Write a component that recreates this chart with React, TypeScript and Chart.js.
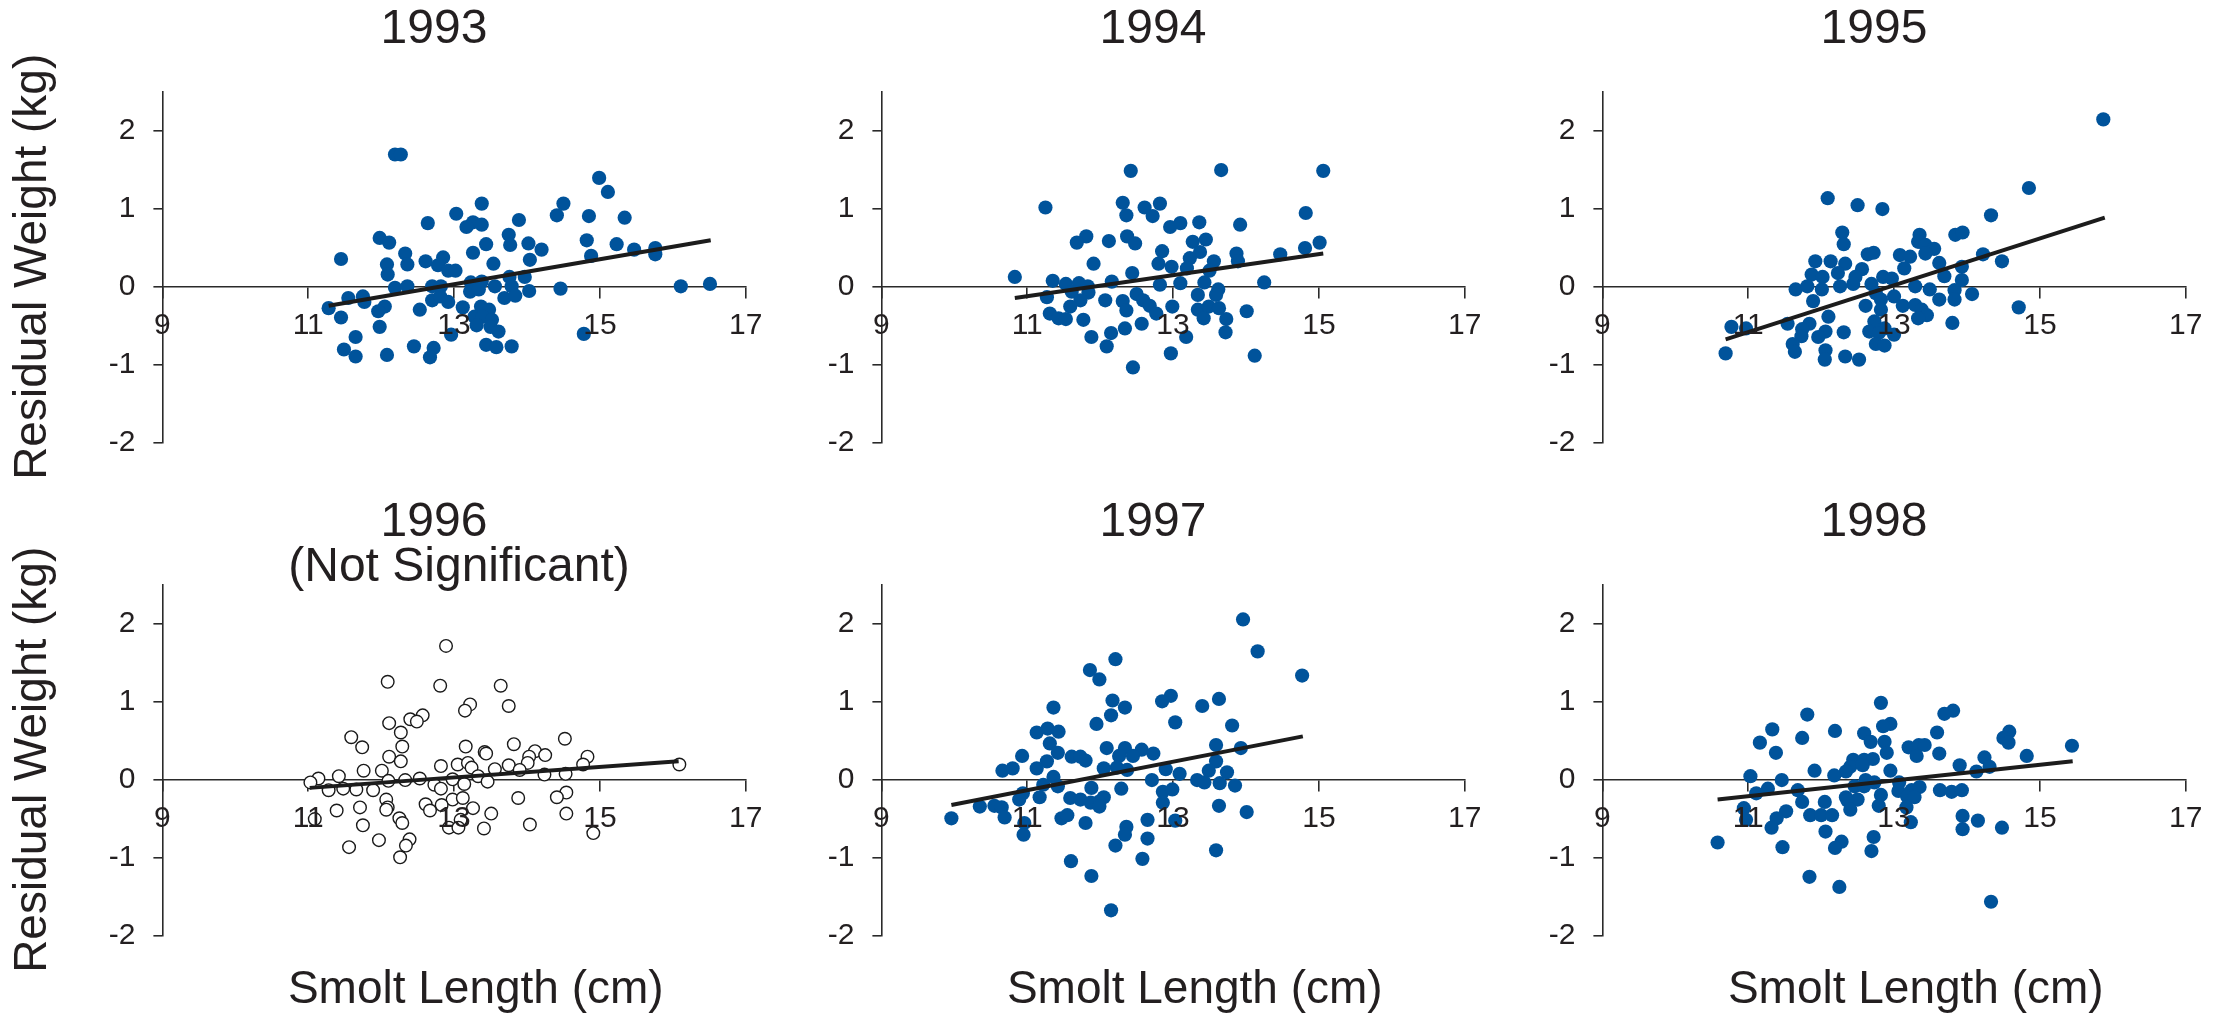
import React, { useEffect, useRef } from "react";
import { Chart, registerables } from "chart.js";

Chart.register(...registerables);

// ---------- data ----------
const years = ["1993", "1994", "1995", "1996", "1997", "1998"];
const xTicks = [9, 11, 13, 15, 17];
const yTicks = [-2, -1, 0, 1, 2];
const xMin = 9;
const xMax = 17;
const yMin = -2;
const yMax = 2.5;
const yAxisTitle = "Residual Weight (kg)";
const xAxisTitle = "Smolt Length (cm)";
const note1996 = "(Not Significant)";

// [smolt length (cm), residual weight (kg)]
const pts1993: [number, number][] = [
  [12.19, 1.69], [12.27, 1.69], [14.99, 1.39], [15.11, 1.21], [13.38, 1.06], [14.5, 1.06], [14.41, 0.91], [13.03, 0.93],
  [14.85, 0.9], [15.34, 0.88], [13.89, 0.85], [12.64, 0.81], [13.26, 0.82], [13.38, 0.79], [13.17, 0.76], [13.75, 0.66],
  [11.98, 0.62], [12.11, 0.56], [13.77, 0.53], [13.44, 0.54], [14.82, 0.59], [15.23, 0.54], [14.02, 0.55], [14.2, 0.47],
  [15.47, 0.47], [15.76, 0.49], [15.76, 0.41], [13.26, 0.43], [12.33, 0.42], [11.45, 0.35], [12.61, 0.32], [12.85, 0.37],
  [12.36, 0.28], [12.08, 0.28], [12.78, 0.27], [14.04, 0.34], [13.54, 0.29], [14.88, 0.39], [12.92, 0.2], [13.02, 0.2],
  [12.09, 0.15], [13.76, 0.12], [13.97, 0.12], [13.38, 0.06], [13.23, 0.05], [12.19, -0.02], [12.36, 0.0], [12.7, 0.0],
  [12.82, 0.0], [13.56, 0.0], [14.46, -0.03], [16.11, 0.0], [16.51, 0.03], [13.22, -0.07], [13.34, -0.04], [13.79, 0.0],
  [14.03, -0.06], [11.55, -0.15], [11.75, -0.13], [11.77, -0.2], [12.7, -0.18], [12.81, -0.13], [12.92, -0.2], [13.69, -0.15],
  [13.84, -0.12], [11.28, -0.28], [12.05, -0.26], [11.96, -0.32], [12.53, -0.3], [13.12, -0.27], [13.37, -0.26], [13.48, -0.3],
  [11.45, -0.4], [13.28, -0.39], [13.39, -0.39], [13.52, -0.43], [11.98, -0.52], [13.31, -0.5], [13.5, -0.52], [13.61, -0.58],
  [12.96, -0.62], [11.65, -0.65], [14.78, -0.61], [11.49, -0.81], [11.65, -0.9], [12.08, -0.88], [12.45, -0.77], [12.72, -0.79],
  [12.67, -0.91], [13.44, -0.75], [13.58, -0.78], [13.79, -0.77],
];

const pts1994: [number, number][] = [
  [12.42, 1.48], [13.66, 1.49], [15.06, 1.48], [11.25, 1.01], [12.31, 1.07], [12.82, 1.06], [12.61, 1.01], [12.36, 0.91],
  [12.72, 0.9], [14.82, 0.94], [13.36, 0.82], [13.1, 0.81], [12.96, 0.76], [13.92, 0.79], [11.81, 0.64], [11.68, 0.56],
  [12.12, 0.58], [12.37, 0.64], [12.48, 0.55], [13.27, 0.57], [13.45, 0.6], [15.01, 0.56], [14.81, 0.49], [12.85, 0.45],
  [13.37, 0.44], [13.87, 0.42], [14.47, 0.41], [13.23, 0.36], [13.56, 0.32], [11.91, 0.29], [12.8, 0.29], [12.98, 0.25],
  [13.89, 0.32], [13.19, 0.23], [12.44, 0.17], [13.5, 0.2], [10.83, 0.12], [11.35, 0.07], [12.16, 0.06], [14.25, 0.05],
  [13.43, 0.05], [12.82, 0.02], [13.1, 0.04], [11.53, 0.03], [11.71, 0.04], [11.83, 0.0], [13.62, -0.04], [11.61, -0.07],
  [11.84, -0.08], [11.27, -0.14], [12.5, -0.1], [13.34, -0.11], [13.59, -0.11], [11.73, -0.18], [12.07, -0.18], [12.31, -0.19],
  [12.59, -0.18], [11.59, -0.26], [12.68, -0.25], [12.99, -0.26], [13.34, -0.3], [13.49, -0.26], [13.63, -0.28], [12.36, -0.31],
  [11.31, -0.35], [12.77, -0.35], [14.01, -0.32], [11.43, -0.41], [11.53, -0.42], [11.77, -0.43], [13.42, -0.41], [13.73, -0.42],
  [12.57, -0.48], [12.34, -0.54], [12.15, -0.6], [13.72, -0.59], [11.88, -0.65], [13.18, -0.65], [12.09, -0.77], [12.97, -0.86],
  [14.12, -0.89], [12.45, -1.04],
];

const pts1995: [number, number][] = [
  [15.87, 2.14], [14.85, 1.26], [12.09, 1.13], [12.5, 1.04], [12.84, 0.99], [14.33, 0.91], [12.29, 0.69], [12.31, 0.54],
  [13.35, 0.66], [13.33, 0.57], [13.84, 0.66], [13.94, 0.69], [13.43, 0.53], [13.55, 0.48], [13.43, 0.42], [12.64, 0.41],
  [12.72, 0.43], [14.22, 0.41], [13.08, 0.4], [13.22, 0.38], [11.92, 0.32], [12.13, 0.32], [14.48, 0.32], [12.33, 0.29],
  [13.62, 0.3], [13.93, 0.25], [12.56, 0.22], [13.14, 0.23], [11.87, 0.15], [12.02, 0.12], [12.23, 0.17], [12.47, 0.12],
  [12.85, 0.12], [12.97, 0.1], [13.69, 0.13], [13.93, 0.08], [11.65, -0.04], [11.81, 0.0], [12.01, -0.04], [12.26, 0.0],
  [12.44, 0.03], [12.69, 0.03], [13.29, 0.0], [13.49, -0.04], [13.83, -0.05], [14.07, -0.1], [12.75, -0.09], [13.0, -0.13],
  [11.89, -0.19], [12.82, -0.17], [13.62, -0.17], [13.83, -0.17], [12.61, -0.25], [13.12, -0.25], [13.29, -0.24], [13.38, -0.3],
  [14.71, -0.27], [12.82, -0.3], [13.45, -0.37], [13.33, -0.41], [12.1, -0.39], [12.73, -0.45], [13.8, -0.47], [11.54, -0.48],
  [10.77, -0.52], [10.97, -0.54], [11.84, -0.48], [11.74, -0.55], [12.87, -0.54], [13.0, -0.62], [12.66, -0.58], [12.79, -0.6],
  [12.31, -0.59], [12.06, -0.58], [11.96, -0.65], [11.73, -0.64], [11.61, -0.74], [11.64, -0.84], [12.75, -0.74], [12.87, -0.76],
  [12.06, -0.82], [10.69, -0.86], [12.05, -0.94], [12.33, -0.9], [12.52, -0.94],
];

const pts1996: [number, number][] = [
  [12.89, 1.71], [12.09, 1.25], [12.81, 1.2], [13.64, 1.2], [13.75, 0.94], [13.22, 0.96], [13.15, 0.88], [12.57, 0.82],
  [12.4, 0.77], [12.49, 0.74], [12.11, 0.72], [12.27, 0.6], [11.59, 0.54], [14.52, 0.52], [13.82, 0.45], [11.74, 0.41],
  [12.29, 0.42], [13.16, 0.42], [13.42, 0.35], [14.11, 0.36], [14.25, 0.31], [14.83, 0.29], [13.44, 0.33], [12.11, 0.29],
  [14.03, 0.29], [12.27, 0.23], [14.01, 0.21], [14.77, 0.19], [16.09, 0.19], [12.82, 0.17], [13.05, 0.19], [13.19, 0.21],
  [13.24, 0.15], [13.75, 0.18], [13.56, 0.13], [13.9, 0.12], [11.76, 0.11], [12.01, 0.11], [11.42, 0.04], [11.14, 0.01],
  [12.1, -0.02], [12.33, -0.01], [12.53, 0.01], [12.98, 0.0], [14.24, 0.06], [14.53, 0.07], [13.33, 0.04], [13.46, -0.03],
  [11.03, -0.04], [11.28, -0.14], [11.48, -0.12], [11.66, -0.13], [11.89, -0.14], [12.73, -0.07], [12.82, -0.12], [13.14, -0.06],
  [14.54, -0.17], [14.41, -0.23], [13.88, -0.24], [12.07, -0.26], [12.98, -0.26], [13.12, -0.24], [11.71, -0.36], [12.09, -0.36],
  [12.61, -0.32], [12.83, -0.33], [13.26, -0.37], [11.39, -0.4], [12.07, -0.39], [12.67, -0.4], [13.51, -0.44], [14.54, -0.44],
  [11.09, -0.51], [12.25, -0.5], [12.29, -0.56], [13.09, -0.52], [11.75, -0.59], [12.93, -0.62], [13.06, -0.62], [13.41, -0.63],
  [14.04, -0.58], [14.91, -0.69], [11.97, -0.78], [12.39, -0.77], [12.34, -0.85], [11.56, -0.87], [12.26, -1.0],
];

const pts1997: [number, number][] = [
  [13.96, 2.05], [14.16, 1.64], [14.77, 1.33], [12.21, 1.54], [11.86, 1.4], [11.99, 1.28], [12.97, 1.07], [12.85, 1.0],
  [13.63, 1.03], [13.4, 0.94], [12.17, 1.01], [12.34, 0.92], [11.36, 0.92], [12.15, 0.82], [13.03, 0.73], [11.95, 0.71],
  [13.81, 0.69], [11.13, 0.6], [11.28, 0.65], [11.43, 0.61], [11.31, 0.46], [13.59, 0.44], [13.93, 0.4], [12.09, 0.4],
  [12.34, 0.4], [12.57, 0.38], [12.73, 0.33], [11.42, 0.34], [11.61, 0.29], [11.73, 0.29], [11.8, 0.24], [10.93, 0.3],
  [12.26, 0.3], [12.45, 0.3], [11.27, 0.23], [11.13, 0.14], [10.8, 0.14], [10.66, 0.11], [13.59, 0.23], [13.49, 0.11],
  [13.74, 0.09], [12.05, 0.14], [12.23, 0.15], [12.37, 0.12], [12.9, 0.13], [13.09, 0.07], [11.36, 0.03], [12.71, -0.01],
  [13.33, -0.01], [13.43, -0.04], [13.64, -0.05], [13.85, -0.08], [11.22, -0.07], [11.42, -0.09], [11.88, -0.11], [12.29, -0.12],
  [12.86, -0.16], [12.99, -0.13], [10.94, -0.18], [11.17, -0.23], [10.89, -0.26], [11.59, -0.24], [11.73, -0.26], [12.05, -0.23],
  [12.86, -0.3], [11.98, -0.29], [11.87, -0.3], [11.99, -0.35], [10.35, -0.35], [10.55, -0.34], [10.65, -0.36], [13.63, -0.34],
  [9.96, -0.5], [10.69, -0.49], [10.96, -0.56], [11.47, -0.5], [11.55, -0.46], [11.8, -0.56], [12.65, -0.52], [13.03, -0.53],
  [14.01, -0.42], [12.36, -0.61], [10.95, -0.71], [12.34, -0.71], [12.65, -0.76], [12.21, -0.85], [13.59, -0.91], [12.58, -1.02],
  [11.6, -1.05], [11.88, -1.24], [12.15, -1.68],
];

const pts1998: [number, number][] = [
  [12.82, 0.98], [13.81, 0.88], [13.69, 0.84], [11.81, 0.83], [12.95, 0.71], [12.85, 0.68], [11.33, 0.64], [12.19, 0.62],
  [14.58, 0.61], [13.59, 0.6], [12.59, 0.59], [11.74, 0.53], [14.5, 0.53], [14.57, 0.47], [12.68, 0.48], [12.87, 0.48],
  [11.16, 0.47], [15.44, 0.43], [13.2, 0.41], [13.34, 0.44], [13.42, 0.44], [11.38, 0.34], [12.9, 0.34], [13.62, 0.33],
  [13.31, 0.3], [14.82, 0.3], [14.24, 0.28], [12.44, 0.25], [12.59, 0.25], [12.71, 0.26], [13.9, 0.18], [14.31, 0.16],
  [12.4, 0.16], [12.57, 0.18], [11.91, 0.11], [12.95, 0.11], [12.34, 0.1], [14.13, 0.1], [11.03, 0.04], [12.18, 0.05],
  [11.46, -0.01], [12.61, -0.01], [13.07, -0.04], [12.46, -0.09], [12.59, -0.09], [12.73, -0.04], [11.27, -0.12], [11.11, -0.18],
  [11.68, -0.14], [13.06, -0.15], [13.24, -0.14], [13.35, -0.1], [13.63, -0.14], [13.79, -0.16], [13.93, -0.14], [12.82, -0.2],
  [13.18, -0.22], [13.28, -0.23], [12.34, -0.23], [12.5, -0.26], [12.36, -0.27], [11.74, -0.29], [12.05, -0.29], [12.79, -0.34],
  [13.17, -0.36], [12.4, -0.39], [10.94, -0.37], [11.52, -0.41], [11.85, -0.46], [12.0, -0.46], [12.15, -0.46], [10.97, -0.52],
  [11.39, -0.5], [13.94, -0.47], [13.23, -0.55], [14.15, -0.53], [11.32, -0.62], [13.94, -0.64], [14.48, -0.62], [12.06, -0.67],
  [12.72, -0.74], [12.28, -0.8], [12.19, -0.88], [12.69, -0.92], [10.58, -0.81], [11.47, -0.87], [11.84, -1.25], [12.25, -1.38],
  [14.33, -1.57],
];

// regression line end points [x, y]
const fit1993: [number, number][] = [[11.28, -0.25], [16.52, 0.59]];
const fit1994: [number, number][] = [[10.83, -0.15], [15.06, 0.42]];
const fit1995: [number, number][] = [[10.69, -0.68], [15.89, 0.88]];
const fit1996: [number, number][] = [[11.02, -0.11], [16.08, 0.23]];
const fit1997: [number, number][] = [[9.96, -0.33], [14.78, 0.55]];
const fit1998: [number, number][] = [[10.58, -0.26], [15.45, 0.23]];

const pointSets = [pts1993, pts1994, pts1995, pts1996, pts1997, pts1998];
const fitSets = [fit1993, fit1994, fit1995, fit1996, fit1997, fit1998];
const openMarkers = [false, false, false, true, false, false];

// ---------- styling / layout ----------
const FONT = "'Liberation Sans', Arial, Helvetica, sans-serif";
const TEXT = "#231f20";
const AXIS = "#2a2a2a";
const BLUE = "#00539b";

const CANVAS_W = 868;
const Y_AXIS_W = 162.4;
const PLOT_W = 583.3;
const PLOT_TOP = 91.3;
const PLOT_BOTTOM = 442.3;
const TITLE_SIZE = 48;
const colLeft = [0, 719, 1440];
const rowTop = [0, 493];
const rowH = [493, 529];

type PanelProps = { idx: number };

function Panel({ idx }: PanelProps) {
  const ref = useRef<HTMLCanvasElement | null>(null);
  const col = idx % 3;
  const row = Math.floor(idx / 3);
  const H = rowH[row];

  useEffect(() => {
    const canvas = ref.current;
    if (!canvas) return;
    const open = openMarkers[idx];
    const titleLH = TITLE_SIZE * 1.2;
    const titleTop = 30 - titleLH / 2;
    const chart = new Chart(canvas, {
      type: "scatter",
      data: {
        datasets: [
          {
            type: "line",
            data: fitSets[idx].map(([x, y]) => ({ x, y })),
            borderColor: "#1c1c1c",
            borderWidth: 4,
            pointRadius: 0,
            showLine: true,
            fill: false,
            tension: 0,
            order: 0,
            clip: false,
          } as any,
          {
            type: "scatter",
            data: pointSets[idx].map(([x, y]) => ({ x, y })),
            pointRadius: open ? 6.3 : 7.1,
            pointBackgroundColor: open ? "#ffffff" : BLUE,
            pointBorderColor: open ? "#1a1a1a" : BLUE,
            pointBorderWidth: open ? 1.4 : 0,
            order: 1,
            clip: false,
          } as any,
        ],
      },
      options: {
        animation: false,
        responsive: false,
        maintainAspectRatio: false,
        devicePixelRatio: 1,
        events: [],
        layout: { padding: { left: 0, right: 0, top: 0, bottom: H - PLOT_BOTTOM } },
        plugins: {
          legend: { display: false },
          tooltip: { enabled: false },
          title: {
            display: true,
            text: years[idx],
            color: TEXT,
            font: { family: FONT, size: TITLE_SIZE, weight: "normal", lineHeight: 1.2 },
            padding: { top: titleTop, bottom: PLOT_TOP - titleTop - titleLH },
          },
        },
        scales: {
          x: {
            type: "linear",
            axis: "x",
            position: { y: 0 },
            min: xMin,
            max: xMax,
            afterBuildTicks: (s: any) => {
              s.ticks = xTicks.map((v) => ({ value: v }));
            },
            afterFit: (s: any) => {
              s.paddingLeft = 0;
              s.paddingRight = CANVAS_W - Y_AXIS_W - PLOT_W;
              s.paddingTop = 0;
              s.paddingBottom = 0;
            },
            grid: { display: true, drawOnChartArea: false, drawTicks: true, tickLength: 11, color: AXIS, lineWidth: 1.6 },
            border: { display: true, color: AXIS, width: 1.6 },
            ticks: {
              autoSkip: false,
              maxRotation: 0,
              minRotation: 0,
              padding: 10,
              color: TEXT,
              z: 1,
              font: { family: FONT, size: 30 },
              callback: (v: any) => String(v),
            },
          },
          y: {
            type: "linear",
            position: "left",
            min: yMin,
            max: yMax,
            afterBuildTicks: (s: any) => {
              s.ticks = yTicks.map((v) => ({ value: v }));
            },
            afterFit: (s: any) => {
              s.width = Y_AXIS_W;
              s.paddingLeft = 0;
              s.paddingRight = 0;
              s.paddingTop = 0;
              s.paddingBottom = 0;
            },
            grid: { display: true, drawOnChartArea: false, drawTicks: true, tickLength: 9, color: AXIS, lineWidth: 1.6 },
            border: { display: true, color: AXIS, width: 1.6 },
            ticks: {
              padding: 18,
              color: TEXT,
              font: { family: FONT, size: 30 },
              callback: (v: any) => String(v),
            },
            title: {
              display: col === 0,
              text: yAxisTitle,
              color: TEXT,
              font: { family: FONT, size: 46, weight: "normal", lineHeight: 1.2 },
              padding: { top: 5.7, bottom: 0 },
            },
          },
        },
      } as any,
    });
    return () => chart.destroy();
  }, [idx]);

  return (
    <canvas
      ref={ref}
      width={CANVAS_W}
      height={H}
      style={{
        position: "absolute",
        left: colLeft[col],
        top: rowTop[row],
        width: CANVAS_W,
        height: H,
        display: "block",
      }}
    />
  );
}

export default function App() {
  const textBase: React.CSSProperties = {
    position: "absolute",
    fontFamily: FONT,
    color: TEXT,
    textAlign: "center",
    whiteSpace: "nowrap",
    width: 600,
  };
  return (
    <div
      style={{
        position: "absolute",
        left: 0,
        top: 0,
        width: 2221,
        height: 1022,
        overflow: "hidden",
        background: "#ffffff",
      }}
    >
      {years.map((_, i) => (
        <Panel key={i} idx={i} />
      ))}
      <div style={{ ...textBase, left: 459 - 300, top: 541.4, fontSize: 48, lineHeight: "48px" }}>{note1996}</div>
      {[0, 1, 2].map((c) => (
        <div
          key={c}
          style={{
            ...textBase,
            left: colLeft[c] + 475.8 - 300,
            top: 964.4,
            fontSize: 46,
            lineHeight: "46px",
          }}
        >
          {xAxisTitle}
        </div>
      ))}
    </div>
  );
}
